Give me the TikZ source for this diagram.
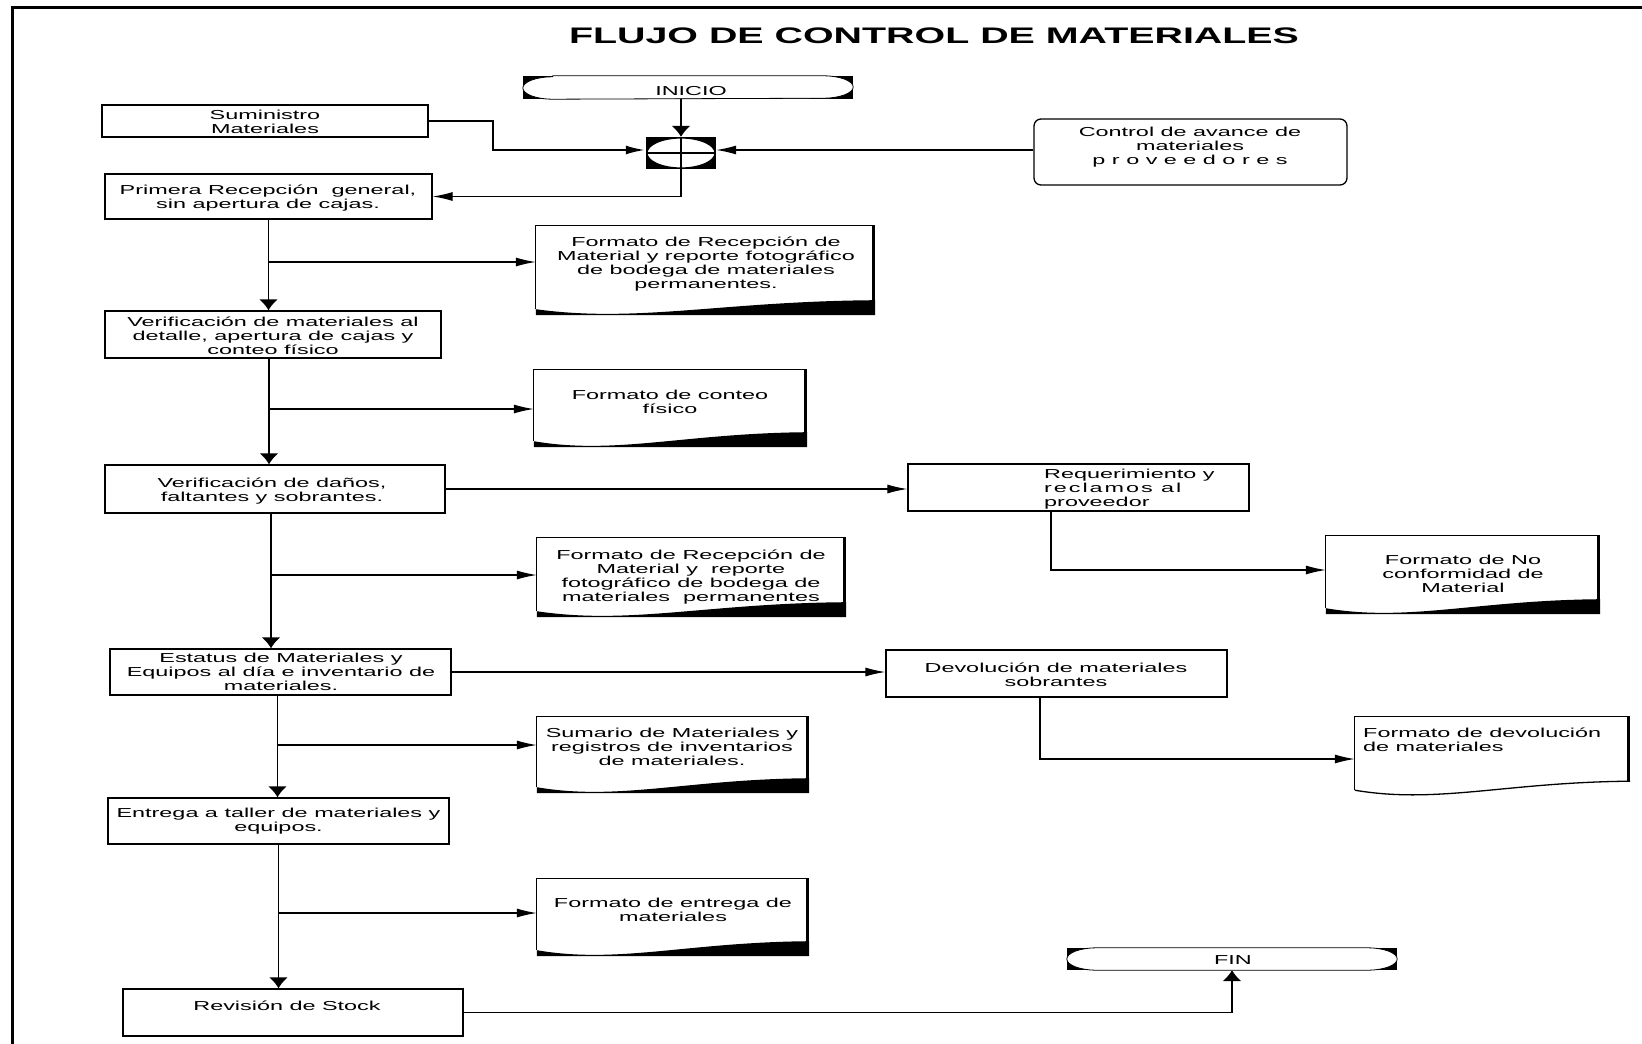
\documentclass[tikz,border=0pt]{standalone}
\usepackage{fontspec}
\setmainfont{Liberation Sans}[FakeStretch=1.8]
\newfontfamily\titlefont{Liberation Sans}[FakeStretch=1.75]
\newfontfamily\spacedfont{Liberation Sans}[FakeStretch=1.8, LetterSpace=15]
\usetikzlibrary{arrows.meta, calc, fit}

\tikzset{
  box/.style={draw, line width=1.3pt, inner sep=0pt},
  thickbox/.style={draw, line width=2.6pt, inner sep=0pt},
  area/.style={inner sep=0pt},
  txt/.style={font=\fontsize{13}{14}\selectfont, align=center, inner sep=0pt},
  ltxt/.style={font=\fontsize{13}{14}\selectfont, align=left, inner sep=0pt, anchor=west},
  conn/.style={line width=1.2pt},
  trunk/.style={line width=1.8pt},
  harr/.style={-{Latex[length=20pt,width=9pt]}},
  varr/.style={-{Latex[length=11pt,width=19pt]}},
}

\newcommand{\docfilled}[1]{%
  \fill ([yshift=6pt]#1.south west) .. controls ($(#1.south west)!0.3!(#1.south east)+(0pt,-8pt)$) and ($(#1.south west)!0.55!(#1.south east)+(0pt,14pt)$) .. ([yshift=15pt]#1.south east) -- (#1.south east) -- (#1.south west) -- cycle;
  \draw[line width=1.3pt] ([yshift=6pt]#1.south west) -- (#1.north west) -- (#1.north east);
  \draw[line width=3pt] ([xshift=-1.5pt]#1.north east) -- ([xshift=-1.5pt]#1.south east);
}
\newcommand{\docopen}[1]{%
  \draw[line width=1.3pt] ([yshift=6pt]#1.south west) .. controls ($(#1.south west)!0.3!(#1.south east)+(0pt,-8pt)$) and ($(#1.south west)!0.55!(#1.south east)+(0pt,14pt)$) .. ([yshift=15pt]#1.south east);
  \draw[line width=1.3pt] ([yshift=6pt]#1.south west) -- (#1.north west) -- (#1.north east);
  \draw[line width=3pt] ([xshift=-1.5pt]#1.north east) -- ([xshift=-1.5pt,yshift=15pt]#1.south east);
}
\newcommand{\terminal}[1]{%
  \fill (#1.south west) rectangle (#1.north east);
  \draw[line width=0.8pt, fill=white] ([xshift=30pt]#1.north west) -- ([xshift=-30pt]#1.north east)
    arc[start angle=90, end angle=-90, x radius=30pt, y radius=11.2pt]
    -- ([xshift=30pt]#1.south west)
    arc[start angle=270, end angle=90, x radius=30pt, y radius=11.2pt] -- cycle;
}

\begin{document}
\begin{tikzpicture}[x=1pt, y=-1pt]
\useasboundingbox (0,0) rectangle (1642,1044);

% frame
\draw[line width=3pt] (12,1044) -- (12,7) -- (1642,7);

% title
\node[font=\titlefont\bfseries\fontsize{22.5}{26}\selectfont, inner sep=0pt] (title) at (934,36) {FLUJO DE CONTROL DE MATERIALES};

% INICIO
\node[area, fit={(523,76) (853,99)}] (inicio) {};
\terminal{inicio}
\node[txt] (inicio-t) at (691,91) {INICIO};

% junction
\node[area, fit={(646,137) (716,169)}] (junc) {};
\fill (junc.south west) rectangle (junc.north east);
\draw[line width=1.2pt, fill=white] (junc.center) ellipse [x radius=34pt, y radius=15pt];
\draw[line width=1.5pt] (junc.north) -- (junc.south) (junc.west) -- (junc.east);

% Suministro
\node[thickbox, fit={(102,105) (428,137)}] (sum) {};
\node[txt] (sum-t) at (265,122) {Suministro\\Materiales};

% Control de avance
\node[box, rounded corners=7pt, fit={(1034,119) (1347,185)}] (ctrl) {};
\node[txt] (ctrl-t) at (1190,147) {Control de avance de\\materiales\\p r o v e e d o r e s};

% Primera recepcion
\node[box, fit={(105,174) (432,219)}] (prim) {};
\node[txt] (prim-t) at (268,198) {Primera Recepción\ \ general,\\sin apertura de cajas.};

% doc1
\node[area, fit={(536,226) (875,315)}] (doc1) {};
\docfilled{doc1}
\node[txt] (doc1-t) at (706,264) {Formato de Recepción de\\Material y reporte fotográfico\\de bodega de materiales\\permanentes.};

% verificacion
\node[box, fit={(105,311) (441,358)}] (verif) {};
\node[txt] (verif-t) at (273,335.5) {Verificación de materiales al\\detalle, apertura de cajas y\\conteo físico};

% doc2
\node[area, fit={(534,370) (807,447)}] (doc2) {};
\docfilled{doc2}
\node[txt] (doc2-t) at (670,402) {Formato de conteo\\físico};

% danos
\node[box, fit={(105,465) (445,513)}] (danos) {};
\node[txt] (danos-t) at (272,491) {Verificación de daños,\\faltantes y sobrantes.};

% requerimiento
\node[box, fit={(908,464) (1249,511)}] (req) {};
\node[ltxt] (req-t) at (1044,489) {Requerimiento y\\{\spacedfont reclamos al}\\proveedor};

% no conformidad
\node[area, fit={(1326,536) (1600,614)}] (noconf) {};
\docfilled{noconf}
\node[txt] (noconf-t) at (1463,573.5) {Formato de No\\conformidad de\\Material};

% doc3
\node[area, fit={(537,538) (846,617)}] (doc3) {};
\docfilled{doc3}
\node[txt] (doc3-t) at (691,577.5) {Formato de Recepción de\\Material y\ \ reporte\\fotográfico de bodega de\\materiales\ \ permanentes};

% estatus
\node[box, fit={(110,649) (451,695)}] (estatus) {};
\node[txt] (estatus-t) at (281,672) {Estatus de Materiales y\\Equipos al día e inventario de\\materiales.};

% devolucion
\node[box, fit={(886,650) (1227,697)}] (devol) {};
\node[txt] (devol-t) at (1056,674.5) {Devolución de materiales\\sobrantes};

% devolucion doc
\node[area, fit={(1355,717) (1630,796)}] (devdoc) {};
\docopen{devdoc}
\node[ltxt] (devdoc-t) at (1363,739.5) {Formato de devolución\\de materiales};

% doc4
\node[area, fit={(537,717) (809,793)}] (doc4) {};
\docfilled{doc4}
\node[txt] (doc4-t) at (672,747) {Sumario de Materiales y\\registros de inventarios\\de materiales.};

% entrega
\node[box, fit={(108,798) (449,844)}] (entrega) {};
\node[txt] (entrega-t) at (278.5,821) {Entrega a taller de materiales y\\equipos.};

% doc5
\node[area, fit={(537,879) (809,956)}] (doc5) {};
\docfilled{doc5}
\node[txt] (doc5-t) at (673,910) {Formato de entrega de\\materiales};

% revision
\node[box, fit={(123,989) (463,1036)}] (revision) {};
\node[txt] (revision-t) at (287,1005.5) {Revisión de Stock};

% FIN
\node[area, fit={(1067,948) (1397,970)}] (fin) {};
\terminal{fin}
\node[txt] (fin-t) at (1233,960) {FIN};

% ---------- connectors ----------
\draw[conn, varr] (inicio.south -| junc.north) -- (junc.north);
\coordinate (sumbend) at (493,150);
\draw[line width=2.6pt, harr] (sum.east) -| (sumbend) -- (sumbend -| junc.west);
\draw[conn, harr] ([yshift=2pt]ctrl.west) -- ([yshift=2pt]ctrl.west -| junc.east);
\draw[conn, harr] (junc.south) |- (prim.east);

\draw[trunk, varr] (prim.south) -- (prim.south |- verif.north);
\coordinate (b1) at (268.5,262);
\draw[conn, harr] (b1) -- (b1 -| doc1.west);

\draw[trunk, varr] ([xshift=-4pt]verif.south) -- ([xshift=-4pt]verif.south |- danos.north);
\coordinate (b2) at (269,409);
\draw[conn, harr] (b2) -- (b2 -| doc2.west);

\draw[conn, harr] (danos.east) -- (danos.east -| req.west);
\coordinate (b6) at (1051,570);
\draw[conn, harr] (req.south -| b6) -- (b6) -- (b6 -| noconf.west);

\draw[trunk, varr] ([xshift=-4pt]danos.south) -- ([xshift=-4pt]danos.south |- estatus.north);
\coordinate (b3) at (271,575);
\draw[conn, harr] (b3) -- (b3 -| doc3.west);

\draw[conn, harr] (estatus.east) -- (estatus.east -| devol.west);
\coordinate (b7) at (1040,759);
\draw[conn, harr] (devol.south -| b7) -- (b7) -- (b7 -| devdoc.west);

\draw[trunk, varr] ([xshift=-3pt]estatus.south) -- ([xshift=-3pt]estatus.south |- entrega.north);
\coordinate (b4) at (277.5,745);
\draw[conn, harr] (b4) -- (b4 -| doc4.west);

\draw[trunk, varr] (entrega.south) -- (entrega.south |- revision.north);
\coordinate (b5) at (278.5,913);
\draw[conn, harr] (b5) -- (b5 -| doc5.west);

\draw[conn, varr] (revision.east) -| (fin.south);
\end{tikzpicture}
\end{document}
